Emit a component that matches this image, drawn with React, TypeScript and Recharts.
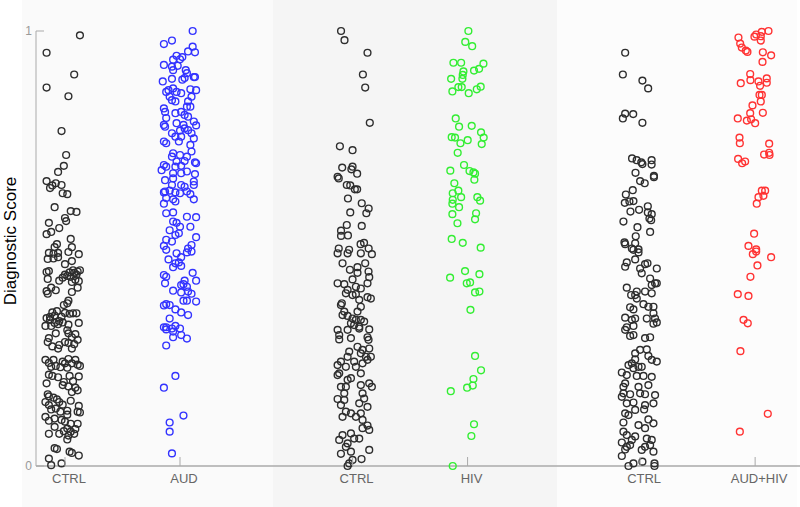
import { ScatterChart, Scatter, XAxis, YAxis, ReferenceArea } from 'recharts';

// each point: [horizontal jitter around the group position, diagnostic score]
type Pt = [number, number];

const categories = ['CTRL', 'AUD', 'CTRL', 'HIV', 'CTRL', 'AUD+HIV'];
const positions = [1, 2, 3.5, 4.5, 6, 7];
const yTicks = [0, 1];

const ctrlA: Pt[] = [
  [0.13, 0.99], [-0.16, 0.95], [0.08, 0.9], [-0.16, 0.87], [0.03, 0.85], [-0.03, 0.77], [0.01, 0.715],
  [-0.01, 0.69], [-0.06, 0.676], [-0.16, 0.655], [-0.13, 0.639], [-0.11, 0.645], [-0.08, 0.65],
  [-0.03, 0.646], [-0.02, 0.627], [0.02, 0.625], [-0.09, 0.595], [0.05, 0.586], [0.1, 0.584], [0.0, 0.57],
  [0.01, 0.563], [-0.14, 0.559], [-0.05, 0.547], [-0.16, 0.533], [-0.12, 0.538], [0.05, 0.522],
  [-0.07, 0.51], [-0.09, 0.503], [0.06, 0.503],
  [-0.14, 0.49], [-0.06, 0.49], [-0.1, 0.488], [0.03, 0.492], [0.12, 0.487], [-0.15, 0.476], [-0.1, 0.477],
  [-0.06, 0.48], [0.06, 0.471], [0.0, 0.464], [-0.14, 0.448], [-0.16, 0.446],
  [0.13, 0.45], [0.11, 0.447], [0.08, 0.444], [0.04, 0.445], [0.0, 0.44], [0.05, 0.435], [-0.02, 0.433],
  [-0.05, 0.426], [0.12, 0.425], [0.09, 0.428], [0.06, 0.423], [-0.15, 0.43], [0.02, 0.437], [0.1, 0.44],
  [0.07, 0.45],
  [-0.08, 0.404], [-0.16, 0.402], [-0.15, 0.396], [0.06, 0.4], [0.11, 0.41], [-0.12, 0.41],
  [0.03, 0.38], [0.02, 0.374], [-0.01, 0.37],
  [-0.07, 0.356], [-0.11, 0.353], [0.0, 0.352], [0.07, 0.351], [0.1, 0.351], [-0.09, 0.346], [-0.03, 0.343],
  [0.04, 0.35], [-0.13, 0.343],
  [-0.16, 0.34], [-0.13, 0.336], [-0.09, 0.329], [-0.05, 0.333], [-0.17, 0.322], [-0.12, 0.322],
  [-0.06, 0.326], [0.12, 0.329], [-0.02, 0.33], [0.03, 0.325],
  [0.02, 0.312], [0.03, 0.305], [0.09, 0.303], [0.06, 0.296], [0.03, 0.283], [0.11, 0.29], [-0.08, 0.305],
  [-0.14, 0.294], [-0.11, 0.275], [-0.05, 0.278], [-0.06, 0.27], [0.0, 0.285], [0.06, 0.27], [-0.15, 0.285],
  [0.08, 0.28],
  [-0.17, 0.244], [-0.14, 0.237], [-0.1, 0.244], [-0.08, 0.23], [-0.04, 0.227], [0.0, 0.236], [0.03, 0.246],
  [0.06, 0.236], [0.11, 0.233], [0.13, 0.23], [0.09, 0.244], [-0.12, 0.228], [0.02, 0.226], [-0.02, 0.24],
  [-0.14, 0.21], [-0.11, 0.207], [-0.06, 0.204], [0.04, 0.207], [0.12, 0.206], [-0.01, 0.193], [0.03, 0.183],
  [0.09, 0.18], [0.06, 0.17], [0.11, 0.174], [-0.02, 0.186], [-0.16, 0.19], [0.07, 0.195],
  [-0.15, 0.165], [-0.14, 0.16], [-0.1, 0.157], [-0.07, 0.153], [-0.17, 0.147], [-0.14, 0.14], [-0.05, 0.147],
  [-0.02, 0.141], [-0.08, 0.132], [-0.04, 0.125], [0.02, 0.127], [0.02, 0.118], [0.12, 0.138], [0.11, 0.125],
  [0.13, 0.123], [-0.12, 0.13], [0.05, 0.15],
  [-0.17, 0.113], [-0.14, 0.104], [-0.09, 0.109], [-0.03, 0.106], [0.0, 0.102], [0.05, 0.097], [0.11, 0.097],
  [0.02, 0.086], [0.05, 0.079], [-0.01, 0.08], [0.03, 0.07], [0.02, 0.061], [0.08, 0.074], [-0.05, 0.074],
  [-0.14, 0.074], [-0.09, 0.09], [0.09, 0.085],
  [-0.09, 0.041], [-0.07, 0.039], [0.04, 0.033], [0.06, 0.03], [0.12, 0.024],
  [-0.14, 0.017], [-0.03, 0.006], [-0.12, 0.002],
];

const aud: Pt[] = [
  [0.11, 1.0], [-0.14, 0.97], [-0.07, 0.978], [0.11, 0.964], [0.07, 0.953], [0.13, 0.951], [-0.03, 0.943],
  [0.02, 0.94], [-0.06, 0.934], [0.0, 0.935], [-0.14, 0.922], [-0.07, 0.918], [-0.06, 0.91], [-0.02, 0.92],
  [0.05, 0.91], [0.06, 0.903], [0.12, 0.894], [0.13, 0.894], [0.02, 0.888], [0.04, 0.892], [-0.15, 0.884],
  [-0.07, 0.89],
  [-0.12, 0.86], [-0.1, 0.864], [-0.06, 0.868], [-0.03, 0.86], [0.01, 0.857], [0.09, 0.866], [0.14, 0.864],
  [-0.09, 0.849], [0.1, 0.849], [-0.07, 0.841], [-0.04, 0.838], [0.07, 0.838], [0.09, 0.826], [0.06, 0.826],
  [0.01, 0.814], [-0.04, 0.811], [-0.14, 0.822], [-0.13, 0.814], [0.04, 0.807], [0.07, 0.803], [-0.12, 0.8],
  [-0.14, 0.784], [-0.13, 0.78], [0.12, 0.792], [0.14, 0.783], [-0.03, 0.788], [0.03, 0.784], [0.04, 0.776],
  [0.07, 0.772], [0.0, 0.771], [-0.07, 0.765], [-0.04, 0.757], [0.01, 0.757], [0.1, 0.765], [0.12, 0.753],
  [-0.14, 0.746], [-0.12, 0.742], [-0.01, 0.746], [0.09, 0.738], [-0.06, 0.719], [0.0, 0.715], [-0.07, 0.711],
  [0.06, 0.711], [0.1, 0.723], [0.13, 0.698], [0.14, 0.696], [0.04, 0.701], [-0.03, 0.7], [0.01, 0.69],
  [-0.14, 0.692], [-0.12, 0.688], [-0.16, 0.68], [-0.06, 0.673], [-0.04, 0.688],
  [0.01, 0.673], [0.06, 0.677], [0.13, 0.671], [-0.13, 0.657], [-0.06, 0.661], [-0.07, 0.646], [0.01, 0.646],
  [0.04, 0.642], [0.12, 0.654], [0.12, 0.646], [-0.13, 0.631], [-0.14, 0.629], [-0.09, 0.633], [-0.04, 0.629],
  [0.0, 0.627], [0.06, 0.631], [0.09, 0.625], [0.12, 0.613], [-0.12, 0.616], [-0.06, 0.613], [-0.14, 0.603],
  [-0.04, 0.608], [-0.12, 0.581], [-0.06, 0.583], [0.06, 0.573], [0.14, 0.572], [-0.06, 0.562], [-0.03, 0.559],
  [0.0, 0.55], [0.09, 0.55], [-0.09, 0.542], [-0.01, 0.535], [-0.04, 0.531], [0.14, 0.526], [-0.12, 0.52],
  [-0.07, 0.516], [0.1, 0.508], [-0.14, 0.506], [0.07, 0.5],
  [-0.12, 0.497], [-0.03, 0.489], [0.06, 0.491], [0.1, 0.493], [0.01, 0.48], [-0.1, 0.475], [-0.01, 0.468],
  [-0.04, 0.466], [-0.06, 0.457], [0.01, 0.46], [-0.14, 0.439], [-0.12, 0.435], [0.11, 0.444], [0.14, 0.426],
  [0.04, 0.426], [0.03, 0.418], [-0.13, 0.42], [0.01, 0.416], [0.06, 0.412], [-0.06, 0.403], [0.01, 0.399],
  [0.07, 0.401], [0.1, 0.396], [0.03, 0.38], [0.06, 0.38], [0.14, 0.378], [-0.12, 0.372], [-0.14, 0.369],
  [-0.09, 0.37], [-0.04, 0.36], [0.01, 0.353], [0.07, 0.347], [-0.09, 0.339], [-0.12, 0.319], [-0.14, 0.319],
  [-0.07, 0.316], [-0.04, 0.322], [0.0, 0.316], [-0.12, 0.314], [-0.06, 0.309], [0.01, 0.301], [0.06, 0.293],
  [-0.06, 0.296], [-0.12, 0.277], [-0.04, 0.207], [-0.14, 0.18], [0.03, 0.116], [-0.09, 0.1], [-0.09, 0.079],
  [-0.07, 0.029],
];

const ctrlB: Pt[] = [
  [-0.1, 1.0], [-0.07, 0.979], [0.13, 0.95], [0.09, 0.9], [0.11, 0.87], [0.15, 0.789], [-0.11, 0.735],
  [0.0, 0.726], [-0.09, 0.686], [0.0, 0.688], [-0.01, 0.682], [0.04, 0.672], [-0.13, 0.665], [-0.12, 0.661],
  [-0.05, 0.646], [-0.02, 0.645], [0.02, 0.636], [0.04, 0.636], [-0.04, 0.615], [0.08, 0.604], [0.14, 0.592],
  [0.12, 0.581], [-0.02, 0.583], [-0.05, 0.554], [-0.1, 0.541], [-0.1, 0.529], [-0.04, 0.53], [0.08, 0.552],
  [0.07, 0.51], [0.1, 0.513], [0.14, 0.5], [-0.12, 0.5], [-0.03, 0.497],
  [-0.13, 0.489], [-0.043, 0.489], [0.072, 0.489], [0.168, 0.487], [-0.087, 0.466], [-0.023, 0.451],
  [0.043, 0.457], [0.043, 0.444], [0.11, 0.466], [0.139, 0.447], [0.145, 0.434], [0.13, 0.42], [-0.13, 0.42],
  [-0.072, 0.418], [0.0, 0.429], [0.029, 0.412], [0.072, 0.408], [-0.043, 0.405], [-0.058, 0.397], [0.0, 0.393],
  [0.029, 0.395], [0.13, 0.388], [0.159, 0.385], [-0.093, 0.374], [-0.101, 0.37], [0.058, 0.382], [0.072, 0.366],
  [-0.072, 0.355], [-0.087, 0.347], [-0.043, 0.345], [0.0, 0.339], [0.043, 0.355], [0.029, 0.336], [0.072, 0.336],
  [0.101, 0.332], [-0.014, 0.328], [0.014, 0.324], [0.058, 0.32], [0.145, 0.314], [-0.13, 0.313], [-0.116, 0.301],
  [-0.043, 0.313], [0.058, 0.316], [-0.116, 0.291], [-0.014, 0.294], [0.13, 0.296], [0.139, 0.29], [0.043, 0.274],
  [0.087, 0.267], [0.145, 0.27], [0.072, 0.259], [0.116, 0.251], [0.159, 0.251], [-0.029, 0.263], [-0.043, 0.251],
  [-0.101, 0.24], [-0.13, 0.232], [-0.058, 0.228], [0.014, 0.24], [0.029, 0.228], [0.087, 0.236], [0.13, 0.244],
  [-0.116, 0.213], [-0.13, 0.209], [-0.014, 0.202], [-0.043, 0.198], [0.072, 0.213], [0.145, 0.19], [0.168, 0.182],
  [-0.101, 0.182], [-0.058, 0.182], [-0.072, 0.167], [0.072, 0.186], [0.087, 0.167], [-0.13, 0.154], [-0.101, 0.14],
  [-0.072, 0.152], [0.058, 0.144], [0.101, 0.155], [0.13, 0.136], [-0.058, 0.125], [-0.087, 0.113], [-0.014, 0.121],
  [0.029, 0.113], [0.072, 0.121], [0.087, 0.106], [0.13, 0.093], [0.145, 0.083], [0.087, 0.087], [-0.087, 0.071],
  [-0.014, 0.075], [0.014, 0.063], [0.058, 0.063], [-0.116, 0.06], [-0.043, 0.052], [-0.058, 0.044], [0.145, 0.037],
  [-0.101, 0.028], [-0.014, 0.033], [0.0, 0.014], [0.078, 0.016], [-0.029, 0.006], [-0.043, 0.0],
];

const hiv: Pt[] = [
  [0.007, 1.0], [-0.02, 0.975], [0.04, 0.965], [-0.123, 0.927], [-0.056, 0.927], [0.138, 0.925], [0.056, 0.909],
  [0.1, 0.913], [-0.036, 0.907], [-0.042, 0.899], [-0.143, 0.89], [-0.045, 0.89], [-0.051, 0.871], [-0.08, 0.871],
  [-0.132, 0.861], [0.01, 0.857], [0.08, 0.866], [0.114, 0.872],
  [-0.103, 0.799], [-0.074, 0.78], [0.036, 0.782], [0.117, 0.767], [0.14, 0.755], [-0.138, 0.756], [-0.109, 0.755],
  [-0.062, 0.742], [0.001, 0.749], [0.123, 0.74], [-0.086, 0.72], [-0.031, 0.692], [-0.15, 0.679], [0.017, 0.678],
  [0.051, 0.675], [0.065, 0.672], [0.059, 0.658], [-0.115, 0.65], [-0.08, 0.633], [-0.129, 0.627], [-0.056, 0.618],
  [-0.129, 0.612], [-0.132, 0.603], [-0.074, 0.595], [0.085, 0.618], [0.109, 0.61], [0.074, 0.581], [0.065, 0.567],
  [-0.132, 0.579], [-0.088, 0.558], [-0.138, 0.522], [-0.042, 0.513], [0.114, 0.502],
  [-0.152, 0.433], [-0.022, 0.448], [0.103, 0.441], [-0.007, 0.42], [0.022, 0.422], [0.065, 0.399], [0.103, 0.401],
  [0.025, 0.359], [0.065, 0.253], [0.117, 0.22], [0.051, 0.2], [0.045, 0.185], [-0.004, 0.18], [-0.146, 0.172],
  [0.056, 0.096], [0.033, 0.069], [-0.129, 0.0],
];

const ctrlC: Pt[] = [
  [-0.13, 0.95], [-0.15, 0.9], [0.02, 0.886], [0.07, 0.868], [-0.13, 0.81], [-0.06, 0.809], [-0.15, 0.799],
  [0.02, 0.789], [-0.07, 0.707], [-0.03, 0.703], [0.01, 0.698], [0.02, 0.694], [0.1, 0.703], [0.1, 0.693],
  [-0.04, 0.674], [0.0, 0.655], [0.04, 0.65], [0.12, 0.667], [0.12, 0.664], [-0.064, 0.634], [-0.124, 0.624],
  [-0.133, 0.605], [-0.093, 0.608], [-0.058, 0.609], [0.067, 0.597], [0.101, 0.579], [0.067, 0.583],
  [-0.009, 0.589], [-0.084, 0.585], [0.081, 0.569], [0.096, 0.565], [-0.145, 0.562], [-0.023, 0.549],
  [0.087, 0.538], [-0.038, 0.528], [-0.136, 0.514], [-0.13, 0.51], [-0.043, 0.512], [-0.072, 0.5], [-0.014, 0.498],
  [-0.058, 0.497], [-0.014, 0.491], [-0.116, 0.468], [-0.13, 0.458], [-0.043, 0.475], [0.0, 0.454], [0.014, 0.443],
  [0.043, 0.464], [0.064, 0.466], [0.145, 0.454], [0.087, 0.431], [0.13, 0.42], [0.101, 0.416], [0.145, 0.42],
  [-0.116, 0.41], [-0.029, 0.401], [-0.043, 0.393], [0.043, 0.401], [-0.078, 0.393], [-0.029, 0.385], [0.029, 0.372],
  [0.101, 0.397], [-0.087, 0.365], [-0.058, 0.36], [0.072, 0.366], [0.116, 0.366], [-0.13, 0.341], [-0.043, 0.339],
  [-0.072, 0.336], [0.058, 0.339], [0.116, 0.351], [0.13, 0.339], [0.116, 0.327], [0.145, 0.33], [-0.116, 0.319],
  [-0.13, 0.313], [-0.058, 0.322], [-0.087, 0.299], [-0.058, 0.301], [0.043, 0.294], [0.087, 0.296], [0.0, 0.267],
  [-0.043, 0.259], [0.058, 0.268], [0.072, 0.253], [-0.043, 0.245], [-0.072, 0.236], [-0.101, 0.232], [-0.058, 0.225],
  [-0.014, 0.228], [0.014, 0.228], [0.101, 0.244], [0.145, 0.24], [-0.159, 0.215], [-0.116, 0.209], [-0.029, 0.207],
  [0.029, 0.207], [0.101, 0.205], [-0.13, 0.19], [-0.145, 0.182], [-0.014, 0.182], [0.072, 0.186], [-0.145, 0.167],
  [-0.087, 0.165], [0.0, 0.167], [0.043, 0.165], [0.13, 0.163], [-0.159, 0.159], [-0.116, 0.144], [-0.058, 0.146],
  [0.043, 0.14], [0.116, 0.144], [-0.13, 0.121], [-0.101, 0.117], [-0.043, 0.129], [0.035, 0.13], [0.072, 0.107],
  [0.116, 0.098], [-0.145, 0.1], [-0.014, 0.094], [0.043, 0.087], [-0.145, 0.079], [-0.116, 0.071], [-0.043, 0.068],
  [-0.072, 0.06], [0.058, 0.063], [0.101, 0.06], [-0.159, 0.054], [-0.116, 0.044], [-0.087, 0.048], [0.043, 0.044],
  [0.087, 0.048], [0.116, 0.033], [0.014, 0.037], [-0.13, 0.038], [-0.159, 0.023], [-0.058, 0.006], [-0.101, 0.0],
  [0.02, 0.01], [0.125, 0.006], [0.125, 0.0],
];

const audHiv: Pt[] = [
  [0.116, 1.0], [0.058, 0.998], [0.009, 0.992], [-0.006, 0.987], [0.049, 0.988], [0.049, 0.978], [-0.145, 0.985],
  [-0.13, 0.971], [-0.116, 0.962], [-0.081, 0.955], [-0.067, 0.952], [0.067, 0.951], [0.139, 0.944], [0.064, 0.929],
  [-0.043, 0.901], [-0.041, 0.887], [-0.125, 0.88], [0.029, 0.884], [0.043, 0.874], [0.101, 0.891], [0.101, 0.881],
  [0.038, 0.853], [0.058, 0.853], [0.049, 0.838], [-0.023, 0.829], [-0.043, 0.811], [0.067, 0.812], [-0.151, 0.799],
  [-0.072, 0.794], [-0.035, 0.797], [0.0, 0.788], [-0.136, 0.755], [-0.133, 0.742], [0.122, 0.741], [-0.148, 0.706],
  [-0.113, 0.696], [-0.087, 0.7], [0.078, 0.716], [0.122, 0.72], [0.125, 0.715], [0.058, 0.633], [0.087, 0.633],
  [0.029, 0.618], [0.072, 0.621], [0.014, 0.603], [-0.009, 0.534], [-0.058, 0.506], [0.009, 0.498],
  [-0.02, 0.487], [0.009, 0.493], [0.139, 0.48], [0.02, 0.461], [-0.041, 0.435], [-0.151, 0.395], [-0.058, 0.391],
  [-0.101, 0.336], [-0.064, 0.328], [-0.128, 0.264], [0.11, 0.12], [-0.133, 0.079],
];

const groupPoints = [ctrlA, aud, ctrlB, hiv, ctrlC, audHiv];
const groupColors = ['#2e2e2e', '#3333ff', '#2e2e2e', '#33ee33', '#2e2e2e', '#ff3333'];

const FONT = "'Liberation Sans', Arial, sans-serif";

const XTick = ({ x, y, payload }: any) => {
  const i = positions.indexOf(payload.value);
  return (
    <g>
      <line x1={x} x2={x} y1={y} y2={y - 9} stroke="#aaaaaa" />
      <text x={x + 4} y={y + 17} textAnchor="middle" fill="#666666" fontSize={13} fontFamily={FONT}>
        {categories[i]}
      </text>
    </g>
  );
};

const YTick = ({ x, y, payload }: any) => (
  <g>
    <line x1={x} x2={x + 8} y1={y} y2={y} stroke="#aaaaaa" />
    <text x={x - 4} y={y + 4} textAnchor="end" fill="#999999" fontSize={12} fontFamily={FONT}>
      {payload.value}
    </text>
  </g>
);

// baseline at x=16, glyphs grow leftwards after the rotation
const YLabel = () => (
  <text
    x={16}
    y={241}
    transform="rotate(-90 16 241)"
    textAnchor="middle"
    fill="#000"
    fontSize={17}
    fontFamily={FONT}
  >
    Diagnostic Score
  </text>
);

export default function App() {
  return (
    <div style={{ position: 'absolute', left: 0, top: 0, width: 800, height: 507, background: '#fff' }}>
      <ScatterChart width={800} height={507} margin={{ top: 31, right: 0, bottom: 0, left: 0 }}>
        {/* panel shading behind the three comparisons */}
        <ReferenceArea x1={0.626} x2={2.809} y1={-0.094} y2={1.071} fill="#fafafa" fillOpacity={1} ifOverflow="visible" />
        <ReferenceArea x1={2.809} x2={5.278} y1={-0.094} y2={1.071} fill="#f5f5f5" fillOpacity={1} ifOverflow="visible" />
        <ReferenceArea x1={5.278} x2={7.365} y1={-0.094} y2={1.071} fill="#fcfcfc" fillOpacity={1} ifOverflow="visible" />
        <XAxis
          type="number"
          dataKey="x"
          domain={[0.748, 7.39]}
          allowDataOverflow
          ticks={positions}
          tick={<XTick />}
          tickLine={false}
          tickSize={0}
          tickMargin={0}
          height={41}
          axisLine={{ stroke: '#aaaaaa', strokeWidth: 1.5 }}
        />
        <YAxis
          type="number"
          dataKey="y"
          domain={[0, 1]}
          ticks={yTicks}
          tick={<YTick />}
          tickLine={false}
          tickSize={0}
          tickMargin={0}
          width={36}
          axisLine={{ stroke: '#aaaaaa' }}
          label={<YLabel />}
        />
        {groupPoints.map((pts, gi) => (
          <Scatter
            key={gi}
            data={pts.map(([j, s]) => ({ x: positions[gi] + j, y: s }))}
            isAnimationActive={false}
            shape={(p: any) => (
              <circle cx={p.cx} cy={p.cy} r={3.4} fill="none" stroke={groupColors[gi]} strokeWidth={1.4} />
            )}
          />
        ))}
      </ScatterChart>
    </div>
  );
}
